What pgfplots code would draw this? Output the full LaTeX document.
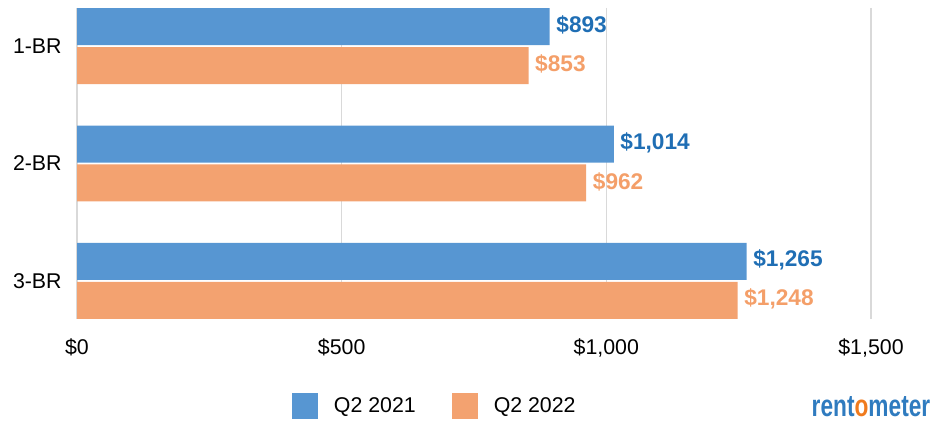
\documentclass[border=0pt]{standalone}
\usepackage{pgfplots}
\pgfplotsset{compat=1.18}
\usepackage{fontspec}
\setmainfont{Liberation Sans}
\definecolor{barblue}{HTML}{5796D2}
\definecolor{barorange}{HTML}{F3A270}
\definecolor{lblblue}{HTML}{1F6EB4}
\definecolor{lblorange}{HTML}{F49F69}
\definecolor{gridgray}{HTML}{D9D9D9}
\definecolor{logoblue}{HTML}{2F7BBF}
\definecolor{logoorange}{HTML}{F07B1E}
\begin{document}
\begin{tikzpicture}
\useasboundingbox (-57.75pt,-78pt) rectangle (645pt,239.25pt);
\begin{axis}[
  at={(0,0)}, anchor=south west,
  scale only axis,
  width=595.5pt, height=233.25pt,
  xmin=0, xmax=1500,
  ymin=-0.325, ymax=2.325,
  y dir=reverse,
  axis lines=left,
  axis line style={draw=none},
  clip=false,
  xtick={0,500,1000,1500},
  xticklabels={{\$0},{\$500},{\$1,000},{\$1,500}},
  ytick={0,1,2},
  yticklabels={1-BR,2-BR,3-BR},
  major tick length=0pt,
  tick label style={font=\fontsize{16}{18}\selectfont, text=black},
  xticklabel style={yshift=-11pt},
  yticklabel style={xshift=-8pt},
  xmajorgrids=true,
  grid style={draw=gridgray, line width=0.9pt},
  point meta=explicit symbolic,
  nodes near coords,
  every node near coord/.append style={font=\fontsize{17}{19}\selectfont\bfseries, anchor=west, xshift=1.5pt, yshift=1pt},
  legend columns=2,
  legend style={at={(0.4510,-0.2797)}, anchor=center, draw=none, fill=none,
    font=\fontsize{16}{18}\selectfont,
    column sep=0pt,
    /tikz/every odd column/.append style={column sep=10pt},
    /tikz/every even column/.append style={column sep=25pt}},
  legend cell align=left,
]
\draw[gridgray, line width=0.9pt] (axis cs:0,-0.325) -- (axis cs:0,2.325);
\addplot[xbar, bar width=0.315, bar shift=0, fill=barblue, draw=none,
  every node near coord/.append style={text=lblblue},
  legend image code/.code={\fill[barblue] (0pt,-9.75pt) rectangle (19.5pt,9.75pt);}]
  coordinates {(893,-0.166) [\$893] (1014,0.834) [\$1,014] (1265,1.834) [\$1,265]};
\addlegendentry{Q2 2021}
\addplot[xbar, bar width=0.315, bar shift=0, fill=barorange, draw=none,
  every node near coord/.append style={text=lblorange},
  legend image code/.code={\fill[barorange] (0pt,-9.75pt) rectangle (19.5pt,9.75pt);}]
  coordinates {(853,0.166) [\$853] (962,1.166) [\$962] (1248,2.166) [\$1,248]};
\addlegendentry{Q2 2022}
\end{axis}
\node[xscale=0.74, font=\fontsize{23}{26}\selectfont\bfseries, text=logoblue, inner sep=0pt] at (595.5pt,-66pt) {rent\textcolor{logoorange}{o}meter};
\end{tikzpicture}
\end{document}
